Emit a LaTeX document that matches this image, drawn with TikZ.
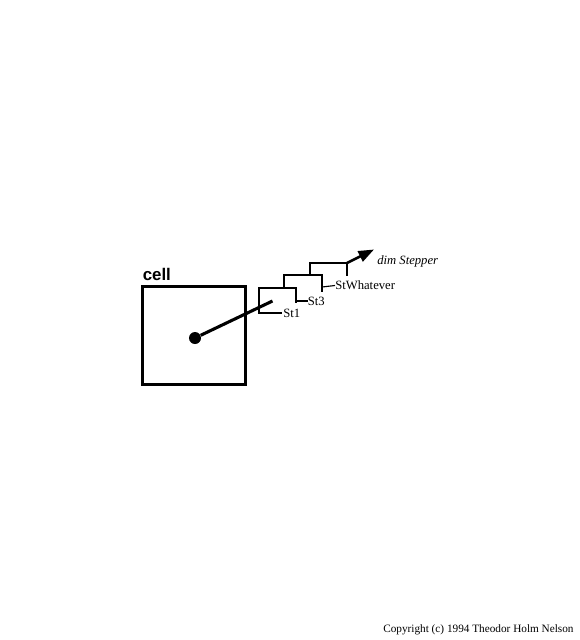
\documentclass[tikz,border=0pt]{standalone}
\usepackage{fontspec}
\setmainfont{Liberation Serif}
\newfontfamily\cellfont{Liberation Sans}
\usetikzlibrary{arrows.meta}
\tikzset{
  lbl/.style={inner sep=0pt, anchor=west, font=\fontsize{9}{10}\selectfont},
  stepline/.style={line width=1.4pt},
  tick/.style={line width=0.8pt}
}
\begin{document}
\begin{tikzpicture}[x=0.025cm,y=-0.025cm]
\useasboundingbox (0,0) rectangle (580,640);
\node[draw, rectangle, line width=2.1pt, minimum width=2.57cm, minimum height=2.45cm, inner sep=0pt] (cell) at (194,335.5) {};
\node[anchor=base west, inner sep=0pt, font=\cellfont\bfseries\fontsize{12}{14}\selectfont] (celllbl) at (142.5,280) {cell};
\node[circle, fill, minimum size=0.3cm, inner sep=0pt] (dot) at (195,338) {};
\coordinate (inner) at (272.5,301);

% the stepper boxes
\draw[stepline] (282,312.7) -- (259,312.7) -- (259,288) -- (296,288) -- (296,303);
\draw[stepline] (284,288) -- (284,275) -- (322,275) -- (322,292);
\draw[stepline] (310,275) -- (310,263) -- (347,263) -- (347,276);

\node[lbl] (st1) at (283,313) {St1};
\node[lbl] (st3) at (307.5,301) {St3};
\node[lbl] (stw) at (335,285.5) {StWhatever};
\node[lbl, font=\itshape\fontsize{9}{10}\selectfont] (dim) at (377,261.5) {dim Stepper};
\coordinate (tip) at (374,249.5);

\draw[line width=2.2pt] (dot) -- (inner);
\draw[tick] (296,301) -- (st3.west);
\draw[tick] (322,287) -- (stw.west);
\draw[line width=1.8pt, -{Triangle[length=11pt,width=8pt]}] (347,263) -- (tip);

\node[anchor=west, inner sep=0pt, font=\fontsize{8}{9}\selectfont] (copy) at (383,630) {Copyright (c) 1994 Theodor Holm Nelson};
\end{tikzpicture}
\end{document}
